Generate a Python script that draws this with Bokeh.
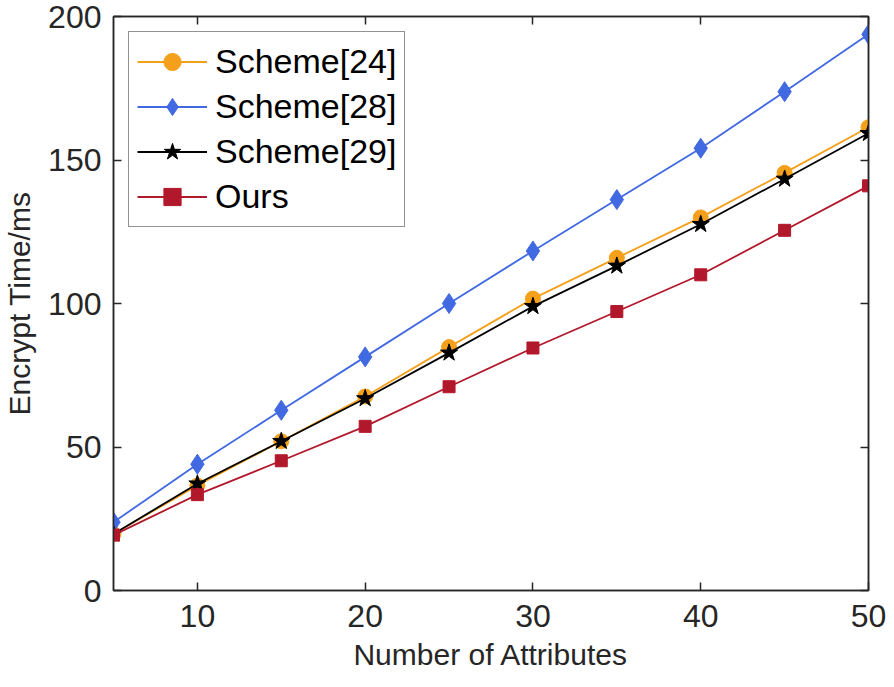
from bokeh.plotting import figure
from bokeh.models import LinearAxis, FixedTicker, Range1d
from bokeh.embed import file_html
from bokeh.resources import INLINE

attributes = [5, 10, 15, 20, 25, 30, 35, 40, 45, 50]
scheme24 = [19.7, 36.6, 52.0, 67.6, 84.8, 101.7, 115.9, 130.0, 145.5, 161.4]
scheme28 = [23.8, 44.0, 62.8, 81.4, 100.0, 118.3, 136.2, 154.1, 173.8, 193.8]
scheme29 = [19.7, 37.2, 52.0, 66.9, 82.8, 99.0, 113.1, 127.6, 143.4, 159.3]
ours = [19.3, 33.4, 45.2, 57.2, 71.0, 84.5, 97.2, 110.0, 125.5, 141.0]
x_ticks = [10, 20, 30, 40, 50]
y_ticks = [0, 50, 100, 150, 200]

FONT = "Liberation Sans"
AX = "#262626"

p = figure(width=886, height=679, output_backend="svg", toolbar_location=None,
           x_range=Range1d(5, 50), y_range=Range1d(0, 200),
           min_border_left=112, min_border_right=18, min_border_top=16, min_border_bottom=89)
p.xgrid.visible = False
p.ygrid.visible = False
p.outline_line_color = AX
p.outline_line_width = 1.5
p.background_fill_color = "white"
p.border_fill_color = "white"

for ax in (p.xaxis[0], p.yaxis[0]):
    ax.axis_line_color = AX
    ax.axis_line_width = 1.5
    ax.major_tick_in = 8
    ax.major_tick_out = 0
    ax.major_tick_line_width = 1.5
    ax.minor_tick_line_color = None
    ax.major_tick_line_color = AX
    ax.major_label_text_font = FONT
    ax.major_label_text_font_size = "32px"
    ax.major_label_text_color = AX
    ax.axis_label_text_font = FONT
    ax.axis_label_text_font_size = "30px"
    ax.axis_label_text_font_style = "normal"
    ax.axis_label_text_color = AX

p.xaxis[0].ticker = FixedTicker(ticks=x_ticks)
p.yaxis[0].ticker = FixedTicker(ticks=y_ticks)
p.xaxis[0].axis_label = "Number of Attributes"
p.yaxis[0].axis_label = "Encrypt Time/ms"
p.xaxis[0].major_label_standoff = 14
p.yaxis[0].major_label_standoff = 12
p.xaxis[0].axis_label_standoff = 8
p.yaxis[0].axis_label_standoff = 9

# box ticks on top and right (MATLAB style), without labels
top_ax = LinearAxis(ticker=FixedTicker(ticks=x_ticks), major_label_text_font_size="8px",
                    major_label_text_color=None,
                    major_label_standoff=0, major_tick_in=8, major_tick_out=0,
                    major_tick_line_color=AX, major_tick_line_width=1.5,
                    minor_tick_line_color=None, axis_line_color=AX, axis_line_width=1.5)
right_ax = LinearAxis(ticker=FixedTicker(ticks=y_ticks), major_label_text_font_size="8px",
                      major_label_text_color=None,
                      major_label_standoff=0, major_tick_in=8, major_tick_out=0,
                      major_tick_line_color=AX, major_tick_line_width=1.5,
                      minor_tick_line_color=None, axis_line_color=AX, axis_line_width=1.5)
p.add_layout(top_ax, "above")
p.add_layout(right_ax, "right")

orange = "#F5A01A"
blue = "#4169E1"
red = "#B2182B"

p.line(attributes, scheme24, color=orange, line_width=1.8, legend_label="Scheme[24]")
p.scatter(attributes, scheme24, marker="circle", size=15, color=orange, legend_label="Scheme[24]")
p.line(attributes, scheme28, color=blue, line_width=1.8, legend_label="Scheme[28]")
p.scatter(attributes, scheme28, marker="diamond", size=20, color=blue, legend_label="Scheme[28]")
p.line(attributes, scheme29, color="black", line_width=1.8, legend_label="Scheme[29]")
p.scatter(attributes, scheme29, marker="star", size=18, color="black", legend_label="Scheme[29]")
p.line(attributes, ours, color=red, line_width=1.8, legend_label="Ours")
p.scatter(attributes, ours, marker="square", size=12, color=red, legend_label="Ours")

lg = p.legend[0]
lg.location = "top_left"
lg.label_text_font = FONT
lg.label_text_font_size = "34px"
lg.label_text_color = "black"
lg.glyph_width = 70
lg.glyph_height = 43
lg.label_height = 43
lg.spacing = 2
lg.padding = 8
lg.margin = 15
lg.label_standoff = 8
lg.border_line_color = AX
lg.border_line_width = 1.5
lg.background_fill_alpha = 1.0

open("out.html", "w").write(file_html(p, INLINE))
